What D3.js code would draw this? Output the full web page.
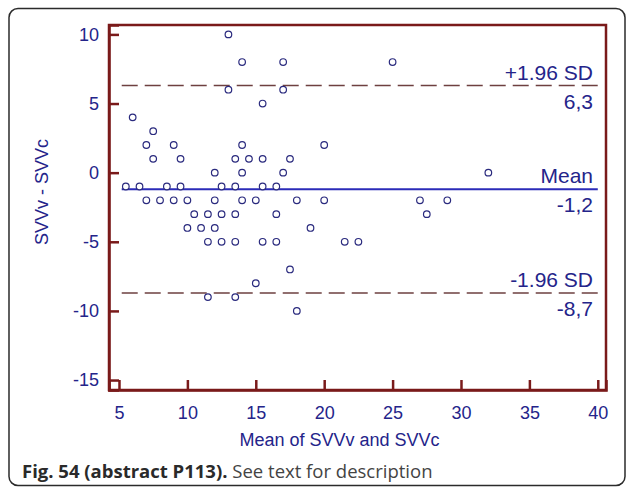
<!DOCTYPE html>
<html>
<head>
<meta charset="utf-8">
<script src="https://cdn.jsdelivr.net/npm/d3@7/dist/d3.min.js"></script>
<style>
  html, body { margin: 0; padding: 0; background: #fff; }
  svg { display: block; }
</style>
</head>
<body>
<svg id="chart" width="627" height="488"></svg>
<script>
// ---- data ----
const meanX = [13, 14, 17, 25, 13, 17, 15.5, 6, 7.5, 7, 9, 14, 20,
  7.5, 9.5, 13.5, 14.5, 15.5, 17.5, 12, 14, 17, 32,
  5.5, 6.5, 8.5, 9.5, 12.5, 13.5, 15.5, 16.5,
  7, 8, 9, 10, 12, 14, 15, 18, 20, 27, 29,
  10.5, 11.5, 12.5, 13.5, 16.5, 27.5,
  10, 11, 12, 19,
  11.5, 12.5, 13.5, 15.5, 16.5, 21.5, 22.5,
  17.5, 15, 11.5, 13.5, 18];
const diffY = [10, 8, 8, 8, 6, 6, 5, 4, 3, 2, 2, 2, 2,
  1, 1, 1, 1, 1, 1, 0, 0, 0, 0,
  -1, -1, -1, -1, -1, -1, -1, -1,
  -2, -2, -2, -2, -2, -2, -2, -2, -2, -2, -2,
  -3, -3, -3, -3, -3, -3,
  -4, -4, -4, -4,
  -5, -5, -5, -5, -5, -5, -5,
  -7, -8, -9, -9, -10];
const xTicks = [5, 10, 15, 20, 25, 30, 35, 40];
const yTicks = [10, 5, 0, -5, -10, -15];
const meanDiff = -1.2;
const upperLoA = 6.3;
const lowerLoA = -8.7;
const refLines = [
  { value: upperLoA, top: "+1.96 SD", bottom: "6,3", dashed: true },
  { value: meanDiff, top: "Mean", bottom: "-1,2", dashed: false },
  { value: lowerLoA, top: "-1.96 SD", bottom: "-8,7", dashed: true }
];
const xTitle = "Mean of SVVv and SVVc";
const yTitle = "SVVv - SVVc";

// ---- layout ----
const svg = d3.select("#chart");
const plot = { left: 109, right: 606, top: 25, bottom: 390 };
const x = d3.scaleLinear().domain([4.27, 40.6]).range([plot.left, plot.right]);
const y = d3.scaleLinear().domain([-15.72, 10.68]).range([plot.bottom, plot.top]);

const axisColor = "#7a1a1a";
const textColor = "#24248a";
const font = "'Liberation Sans', Arial, sans-serif";

// outer card
svg.append("rect")
  .attr("x", 9).attr("y", 8.5).attr("width", 616).attr("height", 477)
  .attr("rx", 9).attr("ry", 9)
  .attr("fill", "none").attr("stroke", "#2b2b2b").attr("stroke-width", 1.5);

// plot frame
svg.append("rect")
  .attr("x", plot.left).attr("y", plot.top)
  .attr("width", plot.right - plot.left).attr("height", plot.bottom - plot.top)
  .attr("fill", "none").attr("stroke", axisColor).attr("stroke-width", 2.5);

// axes
const fmt = d => String(d);
const xAxis = d3.axisBottom(x).tickValues(xTicks).tickFormat(fmt).tickSize(-10).tickPadding(16);
const yAxis = d3.axisLeft(y).tickValues(yTicks).tickFormat(fmt).tickSize(-10).tickPadding(10);

const gx = svg.append("g").attr("transform", `translate(0,${plot.bottom})`).call(xAxis);
const gy = svg.append("g").attr("transform", `translate(${plot.left},0)`).call(yAxis);
[gx, gy].forEach(g => {
  g.select(".domain").attr("stroke", axisColor).attr("stroke-width", 2.5);
  g.selectAll(".tick line").attr("stroke", axisColor).attr("stroke-width", 2.5);
  g.selectAll(".tick text").attr("fill", textColor)
    .style("font-family", font).style("font-size", "18px");
});

// reference lines
const lx0 = x(5.2), lx1 = x(40.0);
refLines.forEach(r => {
  svg.append("line")
    .attr("x1", lx0).attr("x2", lx1)
    .attr("y1", y(r.value)).attr("y2", y(r.value))
    .attr("stroke", r.dashed ? "#6e4040" : "#2b2bb8")
    .attr("stroke-width", r.dashed ? 1.4 : 1.8)
    .attr("stroke-dasharray", r.dashed ? "16,7" : null);
  svg.append("text")
    .attr("x", 593).attr("y", y(r.value) - 6)
    .attr("text-anchor", "end")
    .attr("fill", textColor)
    .style("font-family", font).style("font-size", "21px")
    .text(r.top);
  svg.append("text")
    .attr("x", 593).attr("y", y(r.value) + 23)
    .attr("text-anchor", "end")
    .attr("fill", textColor)
    .style("font-family", font).style("font-size", "21px")
    .text(r.bottom);
});

// points
svg.append("g").selectAll("circle")
  .data(meanX.map((v, i) => [v, diffY[i]]))
  .join("circle")
  .attr("cx", d => x(d[0]))
  .attr("cy", d => y(d[1]))
  .attr("r", 3.3)
  .attr("fill", "#fff")
  .attr("stroke", "#2a2a7e")
  .attr("stroke-width", 1.2);

// axis titles
svg.append("text")
  .attr("x", (plot.left + plot.right) / 2 - 18).attr("y", 446)
  .attr("text-anchor", "middle").attr("fill", textColor)
  .style("font-family", font).style("font-size", "18px")
  .text(xTitle);
svg.append("text")
  .attr("transform", `translate(48,192) rotate(-90)`)
  .attr("text-anchor", "middle").attr("fill", textColor)
  .style("font-family", font).style("font-size", "18px")
  .text(yTitle);

// caption
const cap = svg.append("text")
  .attr("x", 22).attr("y", 478)
  .attr("fill", "#2a2a2a")
  .style("font-family", "'Open Sans', sans-serif").style("font-size", "18.5px");
cap.append("tspan").attr("font-weight", "bold").text("Fig. 54 (abstract P113).");
cap.append("tspan").attr("fill", "#444").text(" See text for description");
</script>
</body>
</html>
